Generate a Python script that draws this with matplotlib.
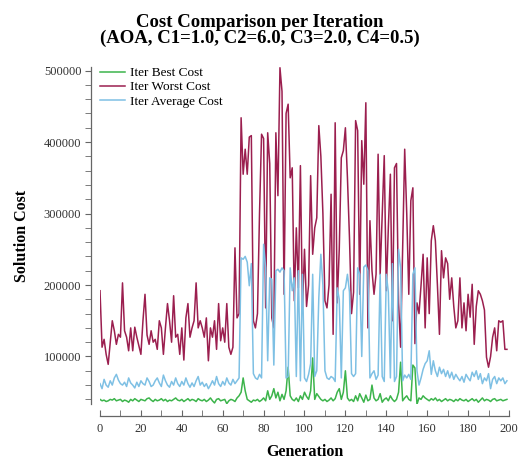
import numpy as np
import matplotlib
matplotlib.use("Agg")
import matplotlib.pyplot as plt
from matplotlib.ticker import MultipleLocator

plt.rcParams['font.family'] = ['Liberation Serif', 'DejaVu Serif']

# cost per generation (0..199)
best_cost = [
    40000, 38000, 39000, 37000, 38000, 40000, 39000, 41000, 38000, 39000,
    40000, 37000, 39000, 38000, 36000, 40000, 38000, 41000, 39000, 37000,
    40000, 39000, 38000, 41000, 42000, 39000, 37000, 40000, 38000, 39000,
    41000, 38000, 40000, 37000, 39000, 38000, 40000, 42000, 39000, 38000,
    40000, 37000, 39000, 41000, 38000, 40000, 39000, 37000, 41000, 39000,
    38000, 40000, 37000, 39000, 42000, 38000, 35000, 40000, 41000, 38000,
    39000, 40000, 34000, 38000, 40000, 39000, 37000, 42000, 45000, 50000,
    70000, 52000, 40000, 38000, 36000, 39000, 38000, 40000, 37000, 39000,
    42000, 38000, 52000, 40000, 45000, 55000, 42000, 50000, 38000, 47000,
    40000, 52000, 85000, 45000, 40000, 38000, 42000, 37000, 45000, 40000,
    50000, 44000, 40000, 52000, 98000, 40000, 48000, 44000, 40000, 38000,
    40000, 37000, 39000, 42000, 38000, 41000, 50000, 55000, 40000, 50000,
    80000, 42000, 38000, 40000, 37000, 45000, 38000, 48000, 42000, 36000,
    46000, 38000, 40000, 60000, 42000, 38000, 40000, 48000, 36000, 40000,
    42000, 38000, 45000, 40000, 37000, 40000, 50000, 92000, 38000, 42000,
    45000, 40000, 38000, 88000, 84000, 33000, 42000, 40000, 45000, 42000,
    40000, 38000, 41000, 39000, 42000, 38000, 40000, 37000, 39000, 41000,
    38000, 40000, 39000, 37000, 40000, 38000, 41000, 39000, 38000, 40000,
    37000, 39000, 41000, 38000, 40000, 36000, 39000, 42000, 38000, 40000,
    39000, 37000, 40000, 41000, 38000, 39000, 40000, 38000, 39000, 40000,
]

worst_cost = [
    192000, 113000, 124000, 103000, 89000, 120000, 150000, 136000, 117000, 131000,
    127000, 203000, 136000, 127000, 108000, 140000, 108000, 141000, 127000, 115000,
    103000, 150000, 187000, 130000, 117000, 136000, 120000, 124000, 110000, 150000,
    140000, 103000, 140000, 174000, 150000, 120000, 185000, 127000, 131000, 103000,
    140000, 95000, 154000, 174000, 127000, 140000, 150000, 203000, 140000, 150000,
    140000, 127000, 154000, 94000, 140000, 127000, 150000, 110000, 174000, 122000,
    140000, 120000, 174000, 113000, 103000, 113000, 252000, 154000, 160000, 434000,
    355000, 390000, 355000, 407000, 409000, 150000, 140000, 160000, 300000, 411000,
    405000, 168000, 413000, 370000, 154000, 140000, 413000, 325000, 504000, 471000,
    187000, 440000, 453000, 350000, 364000, 178000, 280000, 196000, 367000, 168000,
    250000, 170000, 200000, 353000, 243000, 280000, 294000, 423000, 380000, 300000,
    178000, 168000, 200000, 327000, 131000, 427000, 175000, 250000, 378000, 388000,
    420000, 350000, 266000, 160000, 190000, 430000, 416000, 187000, 402000, 341000,
    455000, 140000, 290000, 220000, 187000, 215000, 383000, 215000, 300000, 381000,
    192000, 280000, 355000, 150000, 364000, 370000, 175000, 113000, 250000, 390000,
    300000, 187000, 318000, 336000, 118000, 175000, 160000, 200000, 243000, 140000,
    238000, 160000, 262000, 283000, 262000, 200000, 131000, 248000, 210000, 238000,
    230000, 180000, 210000, 170000, 140000, 150000, 210000, 140000, 175000, 136000,
    187000, 155000, 201000, 117000, 170000, 192000, 187000, 178000, 165000, 99000,
    85000, 100000, 127000, 140000, 108000, 150000, 148000, 150000, 110000, 110000,
]

average_cost = [
    62000, 55000, 68000, 60000, 57000, 66000, 60000, 70000, 75000, 67000,
    62000, 60000, 64000, 58000, 70000, 63000, 60000, 56000, 64000, 58000,
    66000, 62000, 60000, 70000, 65000, 58000, 60000, 66000, 70000, 63000,
    58000, 74000, 66000, 60000, 57000, 65000, 60000, 70000, 62000, 58000,
    65000, 60000, 70000, 62000, 57000, 63000, 58000, 66000, 72000, 60000,
    64000, 58000, 62000, 55000, 60000, 66000, 60000, 72000, 62000, 58000,
    65000, 60000, 70000, 63000, 60000, 68000, 62000, 66000, 70000, 238000,
    236000, 240000, 232000, 199000, 230000, 76000, 70000, 68000, 75000, 70000,
    257000, 224000, 94000, 210000, 208000, 88000, 220000, 222000, 218000, 224000,
    220000, 70000, 72000, 224000, 192000, 210000, 72000, 220000, 66000, 215000,
    70000, 65000, 75000, 90000, 215000, 72000, 80000, 182000, 243000, 200000,
    80000, 70000, 68000, 72000, 70000, 65000, 196000, 180000, 70000, 192000,
    196000, 215000, 190000, 76000, 72000, 76000, 224000, 215000, 100000, 225000,
    228000, 220000, 70000, 76000, 80000, 68000, 74000, 215000, 72000, 65000,
    215000, 190000, 70000, 230000, 65000, 72000, 250000, 224000, 66000, 74000,
    70000, 75000, 68000, 215000, 224000, 80000, 60000, 70000, 82000, 90000,
    94000, 108000, 75000, 94000, 80000, 72000, 85000, 76000, 82000, 72000,
    80000, 70000, 78000, 68000, 75000, 70000, 66000, 72000, 64000, 75000,
    70000, 66000, 78000, 72000, 80000, 68000, 76000, 62000, 70000, 66000,
    76000, 55000, 68000, 72000, 62000, 70000, 66000, 70000, 62000, 66000,
]

generations = np.arange(len(worst_cost))

fig = plt.figure(figsize=(5.19, 4.59), dpi=100)
ax = fig.add_axes([0.1927, 0.119, 0.788, 0.735])

ax.plot(generations, best_cost, color='#3cb44b', lw=1.1, label='Iter Best Cost')
ax.plot(generations, worst_cost, color='#9b1f4f', lw=1.1, label='Iter Worst Cost')
ax.plot(generations, average_cost, color='#7ec0e4', lw=1.1, label='Iter Average Cost')

ax.set_xlim(0, 200)
ax.set_ylim(33000, 505000)

# detached axis lines, d3 style
for side in ('top', 'right'):
    ax.spines[side].set_visible(False)
ax.spines['left'].set_position(('outward', 6.5))
ax.spines['bottom'].set_position(('outward', 8.6))
for side in ('left', 'bottom'):
    ax.spines[side].set_color('#666666')
    ax.spines[side].set_linewidth(0.9)

ax.xaxis.set_major_locator(MultipleLocator(20))
ax.xaxis.set_minor_locator(MultipleLocator(10))
ax.yaxis.set_major_locator(MultipleLocator(100000))
ax.yaxis.set_minor_locator(MultipleLocator(20000))
ax.tick_params(axis='x', which='both', direction='in', colors='#666666',
               labelcolor='#333333', labelsize=9, length=4, pad=5)
ax.tick_params(axis='y', which='both', direction='out', colors='#666666',
               labelcolor='#333333', labelsize=9, length=4, pad=3)

ax.set_xlabel('Generation', fontsize=11.5, fontweight='bold', labelpad=6)
ax.set_ylabel('Solution Cost', fontsize=11.5, fontweight='bold', labelpad=10)
fig.suptitle('Cost Comparison per Iteration\n(AOA, C1=1.0, C2=6.0, C3=2.0, C4=0.5)',
             fontsize=13.5, fontweight='bold', y=0.97, linespacing=0.95)

ax.legend(loc='upper left', frameon=False, fontsize=9.5, handlelength=1.9,
          borderaxespad=0.0, borderpad=0.0, labelspacing=0.15,
          handletextpad=0.4, bbox_to_anchor=(0.0, 1.0))

fig.savefig('out.png', dpi=100)
